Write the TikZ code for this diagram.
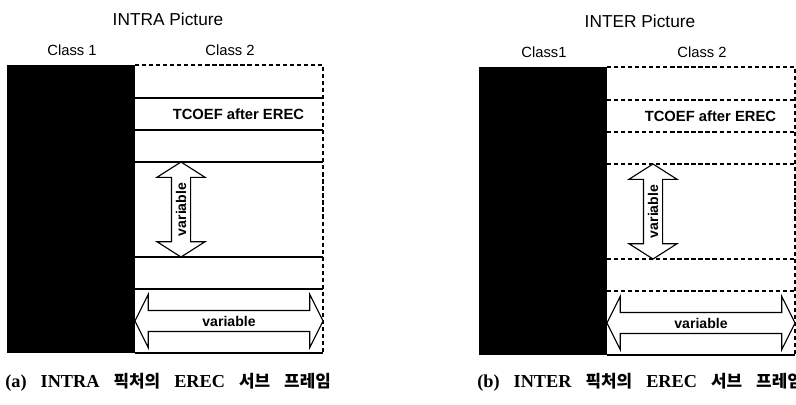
\documentclass[tikz,border=0pt]{standalone}
\usepackage{fontspec}
\setmainfont{Liberation Serif}
\setsansfont{Liberation Sans}
\newfontfamily\krfont{Noto Sans CJK KR}
\newcommand\kr[1]{{\krfont\fontsize{12}{14}\selectfont #1}}
\usetikzlibrary{shapes.arrows}

\tikzset{
  rowline/.style={line width=0.8pt},
  lbl/.style={font=\sffamily\fontsize{10.5}{12}\selectfont},
  varbox/.style={double arrow, draw, line width=0.8pt, fill=white, inner xsep=0pt,
    text height=7.2pt, text depth=0pt, font=\sffamily\bfseries\fontsize{10}{12}\selectfont},
}

\begin{document}
\begin{tikzpicture}[x=0.025cm, y=-0.025cm]
\useasboundingbox (0,0) rectangle (796,404);
\foreach \p/\ox/\oy/\name/\cls/\pat in {a/7/65/INTRA/Class 1/solid, b/479/67/INTER/Class1/densely dashed} {
  \begin{scope}[shift={(\ox,\oy)}]
    % class 1 block and class 2 frame
    \node[fill=black, inner sep=0pt, minimum width=3.2cm, minimum height=7.2cm, anchor=north west] (blk-\p) at (0,0) {};
    \draw[rowline, densely dashed] (128,0) -- (316,0) -- (316,288);
    \draw[rowline] (128,288) -- (316,288);
    \foreach \r in {33,65,97,192,224} {
      \draw[rowline, \pat] (128,\r) -- (316,\r);
    }
    \node[font=\sffamily\fontsize{12.3}{14}\selectfont] (title-\p) at (161,-46) {\name\ Picture};
    \node[lbl] (cone-\p) at (65,-15) {\cls};
    \node[lbl] (ctwo-\p) at (223,-15) {Class 2};
    \node[lbl, font=\sffamily\bfseries\fontsize{10.5}{12}\selectfont, anchor=east] (tcoef-\p) at (302,49) {TCOEF after EREC};
    \node[varbox, rotate=90, minimum height=2.375cm, inner ysep=2.8pt,
      double arrow head extend=10.3pt, double arrow tip angle=115] (vvar-\p) at (174,144.5) {variable};
    \node[varbox, minimum height=4.7cm, inner ysep=3.5pt,
      double arrow head extend=11.4pt, double arrow tip angle=127] (hvar-\p) at (222,256) {variable};
    % caption
    \node[anchor=west, inner sep=0pt, font=\bfseries\fontsize{13}{15}\selectfont] (cap-\p) at (-2,382-\oy)
      {\spaceskip 10pt\relax (\p) \name\ \kr{픽처의} EREC \kr{서브} \kr{프레임}};
  \end{scope}
}
\end{tikzpicture}
\end{document}
